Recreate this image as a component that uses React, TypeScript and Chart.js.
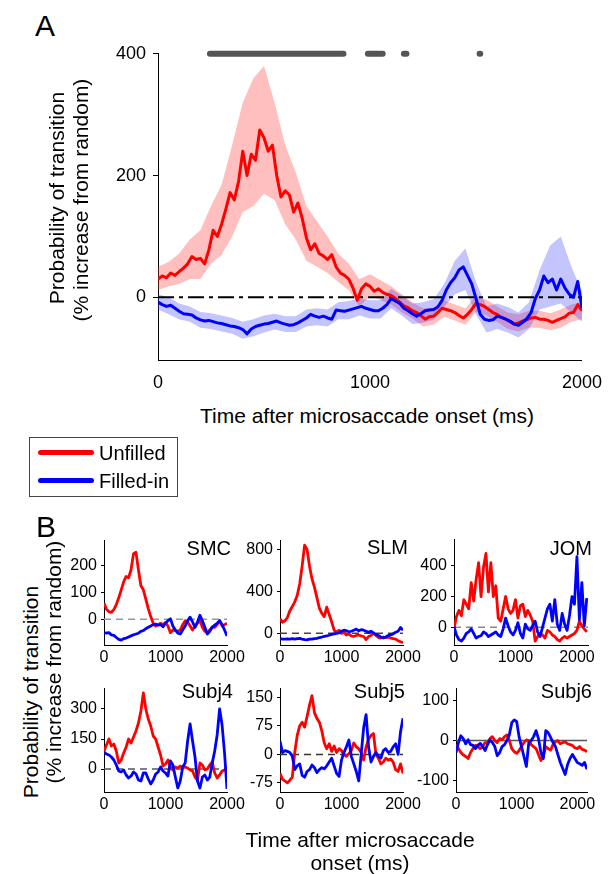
import React, { useEffect, useRef } from "react";
import { Chart, registerables } from "chart.js";

Chart.register(...registerables);

const FONT = "'Liberation Sans', Arial, Helvetica, sans-serif";
const RED = "#ff0000";
const BLUE = "#0000ff";

// ---------------- Panel A data ----------------
const aStep = 20; // ms between samples of the mean traces
const aRed = [
  30, 35, 32, 40, 36, 42, 48, 55, 67, 62,
  64, 55, 78, 110, 100, 120, 145, 172, 160, 190,
  240, 200, 235, 225, 275, 262, 240, 250, 200, 165,
  175, 168, 140, 155, 130, 98, 78, 88, 72, 68,
  62, 70, 50, 40, 36, 30, 15, -5, 14, 22,
  18, 10, 14, 8, 5, 3, -2, -8, -14, -17,
  -22, -25, -30, -36, -32, -31, -25, -18, -20, -22,
  -25, -30, -34, -28, -20, -10, -12, -15, -20, -25,
  -28, -33, -36, -40, -44, -42, -39, -37, -34, -33,
  -36, -36, -38, -41, -38, -35, -32, -26, -25, -12,
  -22,
];
const aBlue = [
  -8, -12, -15, -13, -18, -23, -27, -28, -29, -34,
  -37, -39, -38, -40, -42, -43, -45, -47, -48, -50,
  -53, -60, -52, -48, -46, -44, -43, -41, -39, -42,
  -44, -46, -45, -42, -38, -34, -28, -31, -33, -31,
  -34, -36, -21, -22, -23, -21, -19, -17, -15, -18,
  -20, -22, -22, -18, -12, -2, -6, -10, -18, -22,
  -27, -31, -27, -22, -21, -20, -16, -5, 12, 24,
  32, 45, 50, 36, 22, -2, -28, -36, -38, -37,
  -31, -33, -36, -39, -44, -46, -41, -35, -25, -2,
  12, 35, 24, 30, 12, 30, 15, 5, 0, 26,
  -17,
];
const aBandStep = 50; // ms between samples of the error bands
const aRedUpper = [50, 58, 72, 95, 110, 150, 185, 250, 320, 360, 380, 320, 250, 205, 150, 125, 100, 72, 55, 30, 38, 28, 18, 5, -8, -18, -17, -5, -12, -18, 2, -4, -15, -25, -28, -22, -22, -26, -20, -12, -8];
const aRedLower = [12, 18, 22, 30, 30, 55, 70, 100, 140, 150, 170, 160, 120, 95, 60, 50, 40, 25, 12, -15, 2, -5, -12, -25, -35, -48, -45, -32, -38, -45, -24, -30, -40, -52, -56, -50, -50, -54, -50, -40, -36];
const aBlueUpper = [5, 0, -10, -15, -24, -26, -30, -34, -40, -36, -30, -27, -31, -31, -20, -18, -20, -8, -6, -2, -5, -5, 14, 2, -10, -8, -3, 22, 60, 80, 25, -15, -10, -16, -25, -8, 45, 85, 100, 50, 10];
const aBlueLower = [-20, -28, -36, -40, -50, -52, -56, -60, -68, -64, -58, -53, -57, -57, -48, -46, -48, -36, -36, -30, -35, -35, -18, -30, -44, -42, -37, -16, 5, 12, -28, -58, -52, -58, -66, -52, -20, -15, -10, -25, -40];
const sigStart = [245, 990, 1048, 1160, 1517];
const sigEnd = [875, 1040, 1060, 1172, 1520];
const sigLevel = 400;
const aXTicks = [0, 1000, 2000];
const aYTicks = [0, 200, 400];

// ---------------- Panel B data ----------------
const bStep = 40;
const bXTicks = [0, 1000, 2000];

const smcRed = [60, 38, 28, 26, 36, 55, 80, 110, 140, 160, 155, 185, 245, 250, 185, 125, 110, 75, 40, 10, -15, -25, -20, -15, -20, -12, -25, -50, -40, -42, -45, -40, -20, -5, -10, -25, -40, -25, -15, -5, -30, -45, -50, -40, -28, -30, -20, -5, -25, -20, -15];
const smcBlue = [-50, -52, -50, -58, -60, -68, -75, -78, -72, -70, -66, -62, -58, -55, -52, -45, -42, -35, -30, -25, -20, -18, -22, -20, -28, -15, -5, 2, -25, -40, -52, -55, -40, -25, -5, 8, -10, -30, -10, 15, -5, -30, -55, -45, -30, -22, -15, -5, -20, -40, -62];
const smcYTicks = [0, 100, 200];

const slmRed = [140, 105, 120, 150, 215, 255, 300, 360, 470, 640, 840, 800, 640, 520, 440, 340, 240, 190, 160, 250, 180, 110, 30, 10, 30, 0, 10, -15, -5, -25, -30, -20, -15, -25, -30, -60, -30, -20, 0, -20, -40, -45, -35, -40, -35, -45, -50, -55, -70, -80, -90];
const slmBlue = [-50, -55, -55, -52, -55, -50, -55, -50, -48, -55, -60, -62, -55, -55, -50, -48, -40, -35, -28, -25, -18, -10, -5, 0, 5, 20, 30, 25, 15, 20, 30, 40, 25, 35, 30, 20, 10, 20, 5, -10, -20, -35, -45, -35, -20, -15, -5, 10, 20, 55, 30];
const slmYTicks = [0, 400, 800];

const jomRed = [-10, 70, 110, 75, 180, 150, 120, 290, 170, 310, 420, 200, 390, 480, 230, 420, 200, 270, 60, 40, 120, 200, 120, 90, 110, 180, 60, 140, 150, 70, 110, 80, 40, -90, -60, -40, -50, -70, -20, -30, -50, -60, -80, -90, -70, -60, -70, -60, -50, -40, -20, 40, 10, -10, -30];
const jomBlue = [5, -50, -80, -90, -70, -40, -30, -10, -40, -70, -60, -55, -30, -40, -60, -50, -40, -30, -50, -60, -10, 60, 10, -30, -50, -20, 30, -40, -70, 20, -10, -20, 10, 40, -30, -60, 0, 60, 120, 150, 40, 180, 20, -20, 90, 20, -20, 80, 200, 150, 460, 50, 290, 10, 190];
const jomYTicks = [0, 200, 400];

const s4Red = [90, 120, 150, 115, 125, 90, 30, 45, 80, 110, 150, 130, 160, 190, 230, 290, 380, 300, 250, 215, 165, 150, 110, 70, 15, 25, 45, 10, -5, 10, 5, 15, 5, 10, 5, -5, -10, -40, -55, 30, 20, -5, 0, 20, 35, -20, -45, -30, -10, -5, 10];
const s4Blue = [85, 75, 70, 60, 45, 20, -10, -15, -5, -30, -45, -35, -15, -25, -55, -60, -20, -20, -50, -75, -55, -25, -15, 10, -10, -20, -35, 40, 20, -40, -95, -60, 10, 30, 140, 225, 140, 60, -60, -95, -40, -30, -55, -40, 30, 90, 170, 300, 220, 80, -100];
const s4YTicks = [0, 150, 300];

const s5Red = [-50, -65, -70, -75, -68, -60, 5, 50, 75, 85, 72, 100, 130, 155, 110, 95, 85, 62, 30, 15, 28, 8, 22, 5, 15, 10, 0, -5, 2, 10, 30, 20, 15, 5, -15, 20, 40, 50, 55, 0, -10, -25, -20, -10, -15, -12, -20, -40, -45, -25, -50];
const s5Blue = [35, 5, 10, 8, 5, -5, -40, -30, -25, -55, -60, -45, -40, -28, -35, -48, -40, -35, -38, -30, -20, -10, -30, -50, -58, -15, 5, 20, 38, -5, -25, -45, -70, 0, 70, 105, 20, -20, -5, 5, -5, -10, 10, 15, 5, 8, 20, 28, 0, 60, 95];
const s5YTicks = [-75, 0, 75, 150];

const s6Red = [-10, -20, -30, -36, -40, -45, -30, -20, -12, -15, -20, -15, -5, -5, 5, 10, 0, -5, 5, 2, 10, 14, 0, -20, -28, -32, -25, -15, -5, 2, 0, -10, -15, -20, -35, -50, -40, -15, -20, -24, -10, -3, 0, -8, -5, -3, -8, -10, -12, -18, -20, -15, -22, -24, -28];
const s6Blue = [-30, -5, 12, 5, -8, 2, -10, -12, -20, -12, -7, -15, -25, -10, 2, -5, -15, -38, -30, -15, -10, 0, 15, 45, 52, 48, 10, -15, -40, -65, -5, 0, 10, 25, 5, -30, -45, 25, 20, 8, -5, -15, -35, -55, -70, -85, -60, -45, -35, -45, -55, -58, -62, -55, -72];
const s6YTicks = [-100, 0, 100];

// ---------------- helpers ----------------
function toPoints(vals: number[], step: number) {
  return vals.map((v, i) => ({ x: i * step, y: v }));
}

function trace(vals: number[], step: number, color: string, width: number, order: number) {
  return {
    data: toPoints(vals, step),
    borderColor: color,
    borderWidth: width,
    pointRadius: 0,
    fill: false,
    order,
    borderJoinStyle: "round",
  };
}

function hLine(y: number, x0: number, x1: number, color: string, width: number, dash: number[], order: number) {
  return {
    data: [{ x: x0, y }, { x: x1, y }],
    borderColor: color,
    borderWidth: width,
    borderDash: dash,
    pointRadius: 0,
    fill: false,
    order,
  };
}

const PAD_T = 14;
const PAD_R = 32;

function Plot(props: any) {
  const ref = useRef<HTMLCanvasElement>(null);
  const { area, yw, xh } = props;
  const W = yw + (area.r - area.l) + PAD_R;
  const H = PAD_T + (area.b - area.t) + xh;
  useEffect(() => {
    const chart = new Chart(ref.current as HTMLCanvasElement, {
      type: "line",
      data: { datasets: props.datasets },
      options: {
        responsive: false,
        maintainAspectRatio: false,
        animation: false,
        layout: { padding: { top: PAD_T, right: PAD_R, left: 0, bottom: 0 } },
        plugins: { legend: { display: false }, tooltip: { enabled: false } },
        elements: { point: { radius: 0 }, line: { tension: 0 } },
        scales: {
          x: {
            type: "linear",
            min: props.xMin,
            max: props.xMax,
            afterBuildTicks: (s: any) => {
              s.ticks = props.xTicks.map((v: number) => ({ value: v }));
            },
            afterFit: (s: any) => {
              s.height = xh;
            },
            grid: { display: false, drawTicks: false, tickLength: 0 },
            border: { display: true, color: "#000", width: 1 },
            ticks: {
              color: "#000",
              font: { family: FONT, size: props.tickSize },
              padding: props.xPad,
              maxRotation: 0,
              autoSkip: false,
              callback: (v: any) => String(v),
            },
          },
          y: {
            type: "linear",
            min: props.yMin,
            max: props.yMax,
            afterBuildTicks: (s: any) => {
              s.ticks = props.yTicks.map((v: number) => ({ value: v }));
            },
            afterFit: (s: any) => {
              s.width = yw;
            },
            grid: {
              display: true,
              drawOnChartArea: false,
              drawTicks: true,
              tickLength: props.yTickLen,
              color: "#000",
              lineWidth: 1,
            },
            border: { display: true, color: "#000", width: 1 },
            ticks: {
              color: "#000",
              font: { family: FONT, size: props.tickSize },
              padding: props.yPad,
              autoSkip: false,
              callback: (v: any) => String(v),
            },
          },
        },
      } as any,
    });
    return () => chart.destroy();
  }, []);
  return (
    <canvas
      ref={ref}
      width={W}
      height={H}
      style={{ position: "absolute", left: area.l - yw, top: area.t - PAD_T, width: W, height: H }}
    />
  );
}

function Txt(props: { x: number; y: number; size: number; text: string; rot?: boolean; align?: string }) {
  const tx = props.align === "left" ? "0" : props.align === "right" ? "-100%" : "-50%";
  return (
    <div
      style={{
        position: "absolute",
        left: props.x,
        top: props.y,
        fontFamily: FONT,
        fontSize: props.size,
        lineHeight: 1,
        whiteSpace: "nowrap",
        color: "#000",
        transform: `translate(${tx}, -50%)` + (props.rot ? " rotate(-90deg)" : ""),
      }}
    >
      {props.text}
    </div>
  );
}

// ---------------- datasets ----------------
function sigData() {
  const out: any[] = [];
  sigStart.forEach((s, i) => {
    out.push({ x: s, y: sigLevel }, { x: sigEnd[i], y: sigLevel }, { x: sigEnd[i], y: null });
  });
  return out;
}

const aDatasets = [
  { data: toPoints(aRedUpper, aBandStep), borderColor: "rgba(0,0,0,0)", borderWidth: 0, pointRadius: 0, fill: false, order: 10 },
  { data: toPoints(aRedLower, aBandStep), borderColor: "rgba(0,0,0,0)", borderWidth: 0, pointRadius: 0, fill: "-1", backgroundColor: "rgba(255,60,60,0.33)", order: 10 },
  { data: toPoints(aBlueUpper, aBandStep), borderColor: "rgba(0,0,0,0)", borderWidth: 0, pointRadius: 0, fill: false, order: 9 },
  { data: toPoints(aBlueLower, aBandStep), borderColor: "rgba(0,0,0,0)", borderWidth: 0, pointRadius: 0, fill: "-1", backgroundColor: "rgba(60,60,255,0.3)", order: 9 },
  hLine(0, 0, 2000, "#000", 2, [16, 5, 4, 5], 5),
  trace(aRed, aStep, RED, 3, 3),
  trace(aBlue, aStep, BLUE, 3, 2),
  {
    data: sigData(),
    borderColor: "#555",
    borderWidth: 6,
    borderCapStyle: "round",
    pointRadius: 0,
    fill: false,
    spanGaps: false,
    clip: false,
    order: 1,
  },
];

const panels = [
  { name: "SMC", red: smcRed, blue: smcBlue, yTicks: smcYTicks, area: { l: 104, t: 540, r: 227, b: 645 }, xMax: 2000, yMin: -96, yMax: 296, zc: "#999", zd: [7, 5], tx: 231, ty: 548 },
  { name: "SLM", red: slmRed, blue: slmBlue, yTicks: slmYTicks, area: { l: 280, t: 540, r: 403, b: 645 }, xMax: 2000, yMin: -111, yMax: 889, zc: "#444", zd: [7, 5], tx: 408, ty: 547 },
  { name: "JOM", red: jomRed, blue: jomBlue, yTicks: jomYTicks, area: { l: 454, t: 539, r: 588, b: 645 }, xMax: 2180, yMin: -115, yMax: 574, zc: "#888", zd: [7, 5], tx: 592, ty: 548 },
  { name: "Subj4", red: s4Red, blue: s4Blue, yTicks: s4YTicks, area: { l: 104, t: 688, r: 227, b: 792 }, xMax: 2000, yMin: -115, yMax: 405, zc: "#555", zd: [7, 5], tx: 233, ty: 691 },
  { name: "Subj5", red: s5Red, blue: s5Blue, yTicks: s5YTicks, area: { l: 280, t: 688, r: 403, b: 792 }, xMax: 2000, yMin: -99, yMax: 175, zc: "#333", zd: [7, 5], tx: 405, ty: 691 },
  { name: "Subj6", red: s6Red, blue: s6Blue, yTicks: s6YTicks, area: { l: 456, t: 688, r: 587, b: 792 }, xMax: 2160, yMin: -129, yMax: 132, zc: "#555", zd: [], tx: 592, ty: 691 },
];

export default function App() {
  return (
    <div style={{ position: "absolute", left: 0, top: 0, width: 616, height: 874, background: "#fff", overflow: "hidden" }}>
      <Plot
        area={{ l: 158, t: 50, r: 582, b: 360 }}
        yw={60}
        xh={40}
        datasets={aDatasets}
        xMin={0}
        xMax={2000}
        yMin={-103}
        yMax={400}
        xTicks={aXTicks}
        yTicks={aYTicks}
        tickSize={18}
        yTickLen={5}
        yPad={7}
        xPad={12}
      />
      {panels.map((p) => (
        <Plot
          key={p.name}
          area={p.area}
          yw={50}
          xh={30}
          datasets={[
            hLine(0, 0, p.xMax, p.zc, 1.5, p.zd, 5),
            trace(p.red, bStep, RED, 2.8, 3),
            trace(p.blue, bStep, BLUE, 2.8, 2),
          ]}
          xMin={0}
          xMax={p.xMax}
          yMin={p.yMin}
          yMax={p.yMax}
          xTicks={bXTicks}
          yTicks={p.yTicks}
          tickSize={16}
          yTickLen={3}
          yPad={4}
          xPad={3}
        />
      ))}
      {panels.map((p) => (
        <Txt key={"t" + p.name} x={p.tx} y={p.ty} size={20} text={p.name} align="right" />
      ))}

      <Txt x={35} y={26} size={30} text="A" align="left" />
      <Txt x={36} y={527} size={30} text="B" align="left" />

      <Txt x={56} y={198} size={21} text="Probability of transition" rot />
      <Txt x={80} y={200} size={21} text="(% increase from random)" rot />
      <Txt x={367} y={415} size={21} text="Time after microsaccade onset (ms)" />

      <div style={{ position: "absolute", left: 29, top: 437, width: 147, height: 58, border: "1px solid #444" }} />
      <div style={{ position: "absolute", left: 38, top: 450, width: 56, height: 5, borderRadius: 3, background: RED }} />
      <div style={{ position: "absolute", left: 38, top: 478, width: 56, height: 5, borderRadius: 3, background: BLUE }} />
      <Txt x={99} y={453} size={20} text="Unfilled" align="left" />
      <Txt x={99} y={481} size={20} text="Filled-in" align="left" />

      <Txt x={30} y={692} size={21} text="Probability of transition" rot />
      <Txt x={53} y={662} size={21} text="(% increase from random)" rot />
      <Txt x={360} y={839} size={21} text="Time after microsaccade" />
      <Txt x={360} y={862} size={21} text="onset (ms)" />
    </div>
  );
}
